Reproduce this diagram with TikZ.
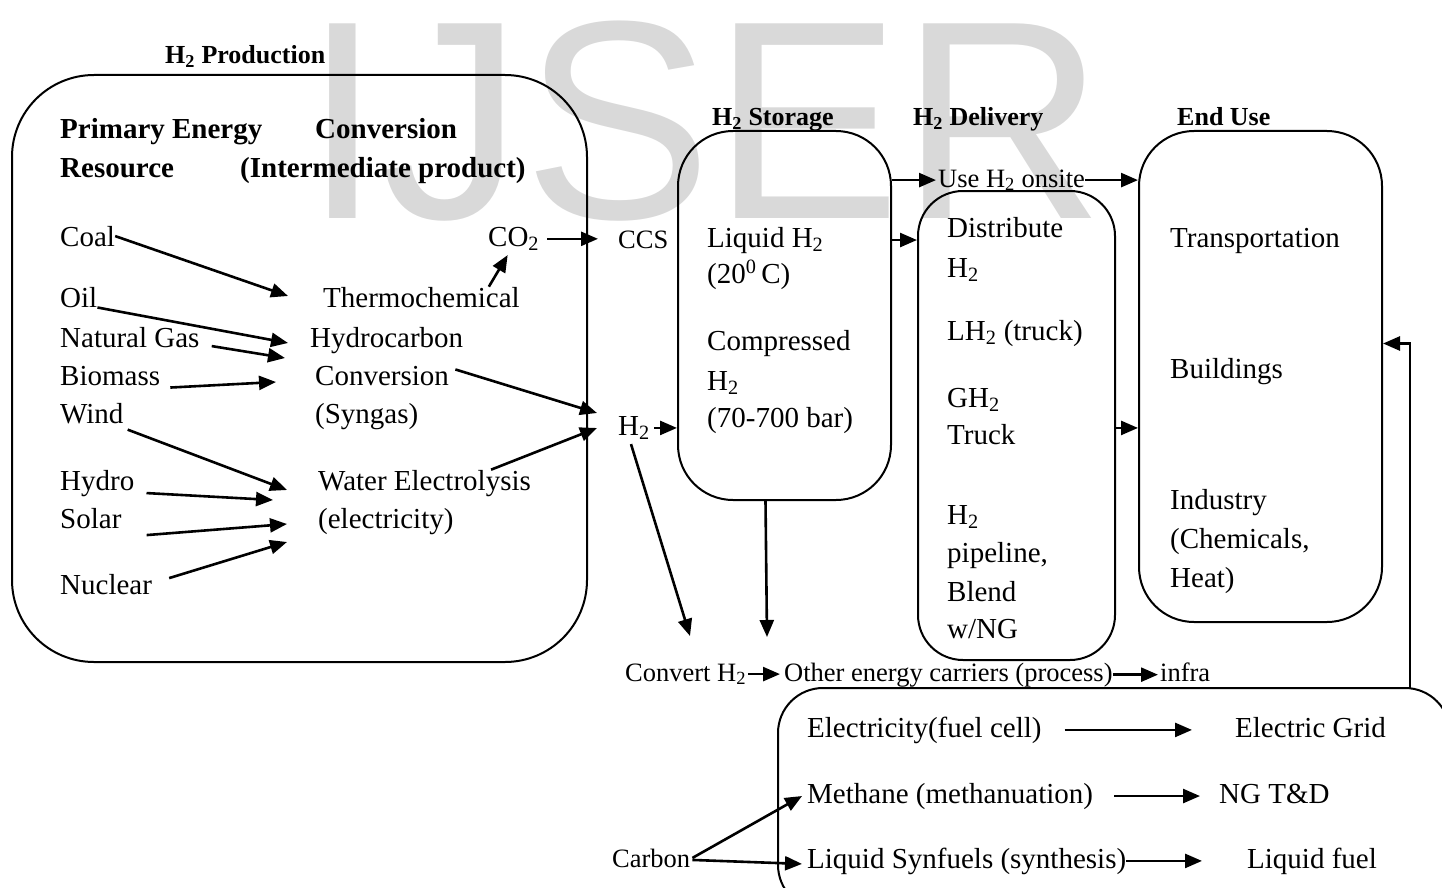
\documentclass[tikz,border=0pt]{standalone}
\usepackage{fontspec}
\setmainfont{Liberation Serif}
\newfontfamily\wmfont{Liberation Sans}
\usetikzlibrary{arrows.meta}
\definecolor{wmgray}{RGB}{217,217,217}

\tikzset{
  txt/.style={anchor=base west, inner sep=0pt, font=\fontsize{29}{34}\selectfont},
  small/.style={txt, font=\fontsize{26.5}{31}\selectfont},
  head/.style={txt, font=\fontsize{26}{31}\selectfont\bfseries},
  bighead/.style={txt, font=\fontsize{29}{34}\selectfont\bfseries},
  stage/.style={draw, line width=2pt, rounded corners=#1},
  flow/.style={->, line width=2.6pt},
}

\begin{document}
\begin{tikzpicture}[x=1pt, y=-1pt, >={Triangle[length=17pt,width=14pt]}]
        \useasboundingbox (0,0) rectangle (1442,888);
        \clip (0,0) rectangle (1442,888);
        % watermark
        \node[anchor=base west, inner sep=0pt, text=wmgray,
              font=\wmfont\fontsize{283}{283}\selectfont] (wm) at (303,218) {IJSER};

        % boxes
        \node[stage=82pt, minimum width=575pt, minimum height=587pt] (prodbox) at (299.5,368.5) {};
        \node[stage=55pt, minimum width=213pt, minimum height=369pt] (storebox) at (784.5,315.5) {};
        \node[stage=45pt, minimum width=197pt, minimum height=469pt] (delivbox) at (1016.5,425.5) {};
        \node[stage=55pt, minimum width=243pt, minimum height=491pt] (endbox) at (1260.5,376.5) {};
        \node[stage=45pt, minimum width=672pt, minimum height=222pt] (carrbox) at (1114,799) {};

        % headings
        \node[head] (hprod) at (165,64) {H\textsubscript{2} Production};
        \node[head] (hstore) at (712,126) {H\textsubscript{2} Storage};
        \node[head] (hdeliv) at (913,126) {H\textsubscript{2} Delivery};
        \node[head] (hend) at (1177,126) {End Use};
        \node[bighead] (pe1) at (60,139) {Primary Energy};
        \node[bighead] (pe2) at (60,177) {Resource};
        \node[bighead] (cv1) at (315,139) {Conversion};
        \node[bighead] (cv2) at (240,177) {(Intermediate product)};

        % primary energy resources
        \node[txt] (coal) at (60,246) {Coal};
        \node[txt] (oil) at (60,307) {Oil};
        \node[txt] (ng) at (60,347) {Natural Gas};
        \node[txt] (bio) at (60,385) {Biomass};
        \node[txt] (wind) at (60,423) {Wind};
        \node[txt] (hydro) at (60,490) {Hydro};
        \node[txt] (solar) at (60,528) {Solar};
        \node[txt] (nuc) at (60,594) {Nuclear};

        % conversion
        \node[txt] (co2) at (488,246) {CO\textsubscript{2}};
        \node[txt] (thermo) at (323,307) {Thermochemical};
        \node[txt] (hc) at (310,347) {Hydrocarbon};
        \node[txt] (conv) at (315,385) {Conversion};
        \node[txt] (syn) at (315,423) {(Syngas)};
        \node[txt] (wel) at (318,490) {Water Electrolysis};
        \node[txt] (elec) at (318,528) {(electricity)};
        \node[small] (ccs) at (618,248) {CCS};
        \node[txt] (h2) at (618,435) {H\textsubscript{2}};

        % storage
        \node[txt] (liq) at (707,247) {Liquid H\textsubscript{2}};
        \node[txt] (temp) at (707,283) {(20\textsuperscript{0}\,C)};
        \node[txt] (comp) at (707,350) {Compressed};
        \node[txt] (comph) at (707,390) {H\textsubscript{2}};
        \node[txt] (bar) at (707,427) {(70-700 bar)};

        % delivery
        \node[small] (onsite) at (938,187) {Use H\textsubscript{2} onsite};
        \node[txt] (d1) at (947,237) {Distribute};
        \node[txt] (d2) at (947,277) {H\textsubscript{2}};
        \node[txt] (d3) at (947,340) {LH\textsubscript{2} (truck)};
        \node[txt] (d4) at (947,407) {GH\textsubscript{2}};
        \node[txt] (d5) at (947,444) {Truck};
        \node[txt] (d6) at (947,524) {H\textsubscript{2}};
        \node[txt] (d7) at (947,562) {pipeline,};
        \node[txt] (d8) at (947,601) {Blend};
        \node[txt] (d9) at (947,638) {w/NG};

        % end use
        \node[txt] (e1) at (1170,247) {Transportation};
        \node[txt] (e2) at (1170,378) {Buildings};
        \node[txt] (e3) at (1170,509) {Industry};
        \node[txt] (e4) at (1170,548) {(Chemicals,};
        \node[txt] (e5) at (1170,587) {Heat)};

        % other carriers
        \node[small] (convh) at (625,681) {Convert H\textsubscript{2}};
        \node[small] (other) at (784,681) {Other energy carriers (process)};
        \node[small] (infra) at (1160,681) {infra};
        \node[txt] (felec) at (807,737) {Electricity(fuel cell)};
        \node[txt] (grid) at (1235,737) {Electric Grid};
        \node[txt] (meth) at (807,803) {Methane (methanuation)};
        \node[txt] (ngtd) at (1219,803) {NG T\&D};
        \node[txt] (synf) at (807,868) {Liquid Synfuels (synthesis)};
        \node[txt] (lfuel) at (1247,868) {Liquid fuel};
        \node[small] (carbon) at (612,867) {Carbon};

        % arrow tips
        \coordinate (t1) at (288,296);
        \coordinate (t2) at (288,343);
        \coordinate (t3) at (285,358);
        \coordinate (t4) at (276,382);
        \coordinate (t5) at (287,490);
        \coordinate (t6) at (273,500);
        \coordinate (t7) at (287,524);
        \coordinate (t8) at (287,542);
        \coordinate (th2a) at (597,413);
        \coordinate (th2b) at (597,428);
        \coordinate (tconv) at (690,636);
        \coordinate (tother) at (767,637);
        \coordinate (fbot) at (1410,688);

        \draw[flow] (coal.east) -- (t1);
        \draw[flow] (oil.south east) -- (t2);
        \draw[flow] ([xshift=12pt,yshift=-9pt]ng.east) -- (t3);
        \draw[flow] ([xshift=10pt,yshift=-12pt]bio.east) -- (t4);
        \draw[flow] ([xshift=4pt,yshift=-6pt]wind.south east) -- (t5);
        \draw[flow] ([xshift=12pt,yshift=-10pt]hydro.east) -- (t6);
        \draw[flow] ([xshift=25pt,yshift=-17pt]solar.east) -- (t7);
        \draw[flow] ([xshift=17pt,yshift=6pt]nuc.east) -- (t8);
        \draw[flow] ([xshift=-31pt]thermo.north east) -- ([xshift=-6pt,yshift=-4pt]co2.south);
        \draw[flow] ([xshift=8pt]co2.east) -- ([xshift=-20pt]co2.east -| ccs.west);
        \draw[flow] ([xshift=-8pt,yshift=-16pt]hc.south east) -- (th2a);
        \draw[flow] ([xshift=-40pt]wel.north east) -- (th2b);
        \draw[flow] ([xshift=4pt]h2.east) -- (h2 -| storebox.west);
        \draw[flow] ([xshift=-3pt,yshift=-4pt]h2.south) -- (tconv);
        \draw[flow] ([xshift=-19pt]storebox.south) -- (tother);
        \draw[flow] (onsite.west -| storebox.east) -- ([xshift=-2pt]onsite.west);
        \draw[flow] (onsite.east) -- (onsite.east -| endbox.west);
        \draw[flow] (liq -| storebox.east) -- (liq -| delivbox.west);
        \draw[flow] (h2 -| delivbox.east) -- (h2 -| endbox.west);
        \draw[flow] ([xshift=2pt]convh.east) -- ([xshift=-4pt]convh.east -| other.west);
        \draw[flow] (other.east) -- ([xshift=-2pt]other.east -| infra.west);
        \draw[flow] (fbot) |- ([yshift=33pt]endbox.east);
        \draw[flow, shorten <=23pt, shorten >=43pt] (felec.east) -- (felec.east -| grid.west);
        \draw[flow, shorten <=21pt, shorten >=19pt] (meth.east) -- (meth.east -| ngtd.west);
        \draw[flow, shorten >=45pt] (synf.east) -- (synf.east -| lfuel.west);
        \draw[flow] ([xshift=2pt]carbon.east) -- ([xshift=-5pt]meth.west);
        \draw[flow] ([xshift=2pt,yshift=-2pt]carbon.east) -- ([xshift=-5pt,yshift=-3pt]synf.west);
\end{tikzpicture}
\end{document}
